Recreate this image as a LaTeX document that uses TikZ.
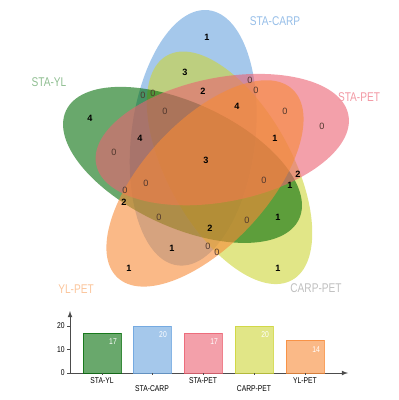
\documentclass[tikz,border=0pt]{standalone}
\usepackage{fontspec}
\setmainfont{Liberation Sans}
\newfontfamily\narrowfont[FakeStretch=0.8]{Liberation Sans}

\definecolor{vblue}{RGB}{105,163,222}
\definecolor{vyellow}{RGB}{205,213,55}
\definecolor{vgreen}{RGB}{5,110,10}
\definecolor{vpink}{RGB}{235,97,113}
\definecolor{vorange}{RGB}{247,138,55}
\definecolor{zerogray}{RGB}{80,55,45}

\begin{document}
\begin{tikzpicture}[x=0.025cm,y=-0.025cm]
    \tikzstyle{num}=[font=\fontsize{6.5}{6.5}\selectfont\bfseries,inner sep=0pt]
    \tikzstyle{zero}=[font=\fontsize{6.5}{6.5}\selectfont,text=zerogray,inner sep=0pt]
    \tikzstyle{setname}=[font=\narrowfont\fontsize{9}{9}\selectfont,inner sep=0pt]
    \tikzstyle{small}=[font=\narrowfont\fontsize{6}{6}\selectfont,inner sep=0pt]

    \useasboundingbox (0,0) rectangle (399,400);
    \coordinate (C) at (206.5,158.7);

    % Sets
    \foreach \k/\col in {0/vblue,3/vyellow,1/vgreen,4/vpink,2/vorange}
        \fill[\col,fill opacity=0.6,rotate around={\k*72:(C)},shift={(193.2,137.8)},rotate=83.1]
            (0,0) ellipse [x radius=128.5,y radius=62];

    % Set names
    \node[setname,text=vblue!70!white] (sc) at (275,21) {STA-CARP};
    \node[setname,text=vgreen!45!white] (sy) at (49,82) {STA-YL};
    \node[setname,text=vpink!65!white] (sp) at (359,97) {STA-PET};
    \node[setname,text=black!25] (cp) at (316,288) {CARP-PET};
    \node[setname,text=vorange!50!white] (yp) at (76,289) {YL-PET};

    % Region counts
    \foreach \x/\y/\v [count=\i] in {207/37/1,185/72/3,203/91/2,237/106/4,90/118/4,
            140/138/4,275/138/1,206/160/3,124/202/2,172/248/1,129/268/1,
            298/174/2,290/185/1,278/217/1,210/228/2,278/268/1}
        \node[num] (n-\i) at (\x,\y) {\v};
    \foreach \x/\y [count=\i] in {143/95,153/93,165/111,250/80,256/90,285/111,
            322/126,114/152,146/183,125/190,159/217,264/180,247/220,208/246,217/252}
        \node[zero] (z-\i) at (\x,\y) {0};

    % Axes
    \coordinate (O) at (70,373);
    \coordinate (xend) at (348,373);
    \coordinate (yend) at (70,311);
    \draw[-latex,black!70,line width=0.5pt] (O) -- (xend);
    \draw[-latex,black!70,line width=0.5pt] (O) -- (yend);
    \foreach \t in {0,10,20} {
        \draw[black!70,line width=0.4pt] (67,373-\t*2.35) -- (70,373-\t*2.35);
        \node[small,anchor=east] (t-\t) at (65,373-\t*2.35) {\t};
    }

    % Bars
    \foreach \x/\h/\col/\name/\ly in {83/17/vgreen/STA-YL/381,133/20/vblue/STA-CARP/389,
            184/17/vpink/STA-PET/381,235/20/vyellow/CARP-PET/389,286/14/vorange/YL-PET/381} {
        \fill[\col,fill opacity=0.6] (\x,373) rectangle (\x+38,373-\h*2.35);
        \draw[\col,draw opacity=0.8,line width=0.4pt] (\x,373) rectangle (\x+38,373-\h*2.35);
        \node[small,text=white] (v-\name) at (\x+30,373-\h*2.35+9) {\h};
        \draw[black!70,line width=0.4pt] (\x+19,373) -- (\x+19,375);
        \node[small] (b-\name) at (\x+19,\ly) {\name};
    }
\end{tikzpicture}
\end{document}
